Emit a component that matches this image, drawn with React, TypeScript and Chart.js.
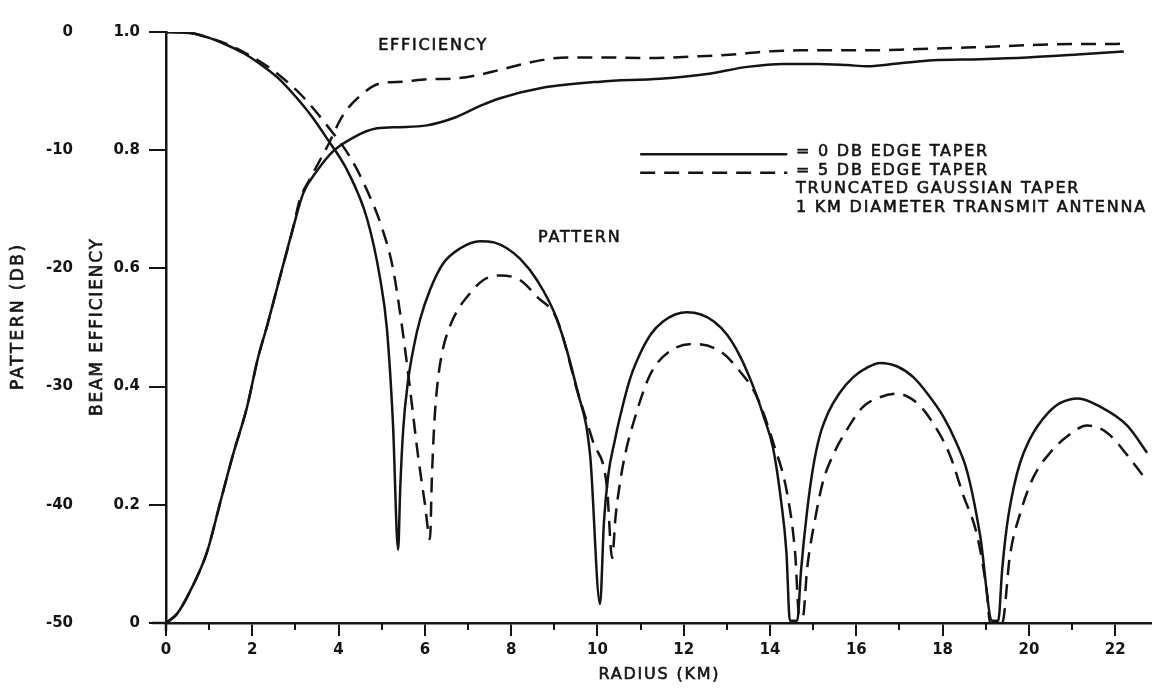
import React, { useEffect, useRef } from 'react';
import { Chart, registerables } from 'chart.js';

Chart.register(...registerables);

// ---------- data ----------
const radiusMin = 0;
const radiusMax = 22.83;
const radiusStep = 2;
const radiusMinorTicks = [1, 3, 5, 7, 9, 11, 13, 15, 17, 19, 21];
const efficiencyTickStep = 0.2;
const patternTickStep = 10;

// Pattern, 0 dB edge taper: [radius km, pattern dB]
const pattern0dB: [number, number][] = [
  [0, 0], [0.6, -0.1], [1.0, -0.5], [1.41, -1.1], [1.8, -1.8], [2.18, -2.7], [2.6, -3.9],
  [2.94, -5.2], [3.35, -7.0], [3.73, -9.0], [4.2, -11.7], [4.66, -15.8], [4.96, -20.8],
  [5.12, -25.1], [5.26, -33.1], [5.38, -43.8],
  [5.43, -38.5], [5.5, -33.5], [5.6, -29.8], [5.75, -26.5], [5.89, -24.3], [6.12, -21.8],
  [6.42, -19.6], [6.82, -18.3], [7.28, -17.7], [7.6, -17.8], [7.9, -18.3], [8.21, -19.2],
  [8.6, -21.0], [9.06, -24.3], [9.53, -30.3], [9.83, -35.8], [10.06, -48.4],
  [10.15, -41.5], [10.25, -37.5], [10.4, -34.6], [10.52, -32.6], [10.75, -29.4], [10.99, -27.2],
  [11.25, -25.5], [11.52, -24.5], [11.8, -23.9], [12.08, -23.7], [12.4, -23.9], [12.7, -24.5],
  [13.0, -25.6], [13.3, -27.4], [13.6, -29.9], [13.85, -32.5], [14.07, -35.2], [14.25, -39.5],
  [14.38, -44.0], [14.46, -49.8],
  [14.63, -49.8], [14.72, -45.5], [14.86, -40.5], [15.0, -36.8], [15.15, -34.2], [15.35, -32.2],
  [15.6, -30.6], [15.93, -29.2], [16.25, -28.4], [16.55, -28.0], [16.95, -28.3], [17.32, -29.2],
  [17.65, -30.6], [18.01, -32.5], [18.3, -34.6], [18.57, -37.2], [18.87, -42.6], [19.15, -49.8],
  [19.29, -49.8], [19.38, -45.5], [19.49, -41.8], [19.65, -38.5], [19.8, -36.4], [20.0, -34.6],
  [20.19, -33.4], [20.45, -32.2], [20.72, -31.4], [21.14, -31.0], [21.65, -31.7], [22.28, -33.3],
  [22.74, -35.6],
];

// Pattern, 5 dB edge taper: [radius km, pattern dB]
const pattern5dB: [number, number][] = [
  [0, 0], [0.6, -0.1], [1.0, -0.5], [1.41, -1.0], [1.8, -1.7], [2.18, -2.5], [2.64, -3.7],
  [3.18, -5.5], [3.73, -7.9], [4.27, -10.6], [4.66, -13.4], [5.0, -16.5], [5.26, -20.0],
  [5.47, -24.9], [5.66, -30.3], [5.84, -35.8], [6.0, -39.9], [6.12, -42.9],
  [6.16, -38.0], [6.22, -33.0], [6.3, -29.5], [6.42, -26.8], [6.58, -24.9], [6.78, -23.4],
  [6.98, -22.4], [7.35, -21.0], [7.74, -20.6], [8.21, -21.0], [8.6, -22.4], [9.06, -24.3],
  [9.53, -30.3], [9.9, -34.7], [10.22, -38.5], [10.34, -44.5],
  [10.42, -41.0], [10.52, -38.2], [10.65, -35.6], [10.83, -33.1], [11.22, -29.0], [11.68, -27.0],
  [12.22, -26.4], [12.84, -27.0], [13.3, -28.7], [13.7, -30.9], [14.07, -34.7], [14.4, -39.1],
  [14.58, -44.0], [14.68, -49.5],
  [14.76, -49.5], [14.86, -45.4], [15.04, -41.3], [15.23, -38.0], [15.46, -35.8], [15.79, -33.6],
  [16.16, -31.7], [16.55, -30.9], [16.94, -30.6], [17.41, -31.4], [17.78, -33.1], [18.17, -35.8],
  [18.47, -39.1], [18.8, -42.6], [19.03, -47.5], [19.1, -50],
  [19.38, -50], [19.56, -44.3], [19.8, -40.7], [20.1, -37.7], [20.49, -35.6], [20.89, -34.2],
  [21.35, -33.3], [21.81, -33.9], [22.28, -35.8], [22.76, -38.1],
];

// Beam efficiency, 0 dB edge taper: [radius km, efficiency]
const efficiency0dB: [number, number][] = [
  [0, 0], [0.25, 0.015], [0.56, 0.054], [0.95, 0.12], [1.25, 0.202], [1.55, 0.284], [1.88, 0.366],
  [2.13, 0.448], [2.34, 0.502], [2.64, 0.585], [2.94, 0.667], [3.18, 0.727], [3.5, 0.765],
  [3.87, 0.798], [4.33, 0.821], [4.89, 0.837], [5.42, 0.839], [6.05, 0.842], [6.65, 0.854],
  [7.28, 0.875], [7.74, 0.888], [8.67, 0.905], [10.06, 0.916], [11.45, 0.921], [12.54, 0.929],
  [13.47, 0.941], [14.3, 0.946], [15.09, 0.946], [15.79, 0.944], [16.25, 0.942], [17.01, 0.947],
  [17.78, 0.952], [18.87, 0.954], [19.96, 0.957], [21.12, 0.962], [22.2, 0.967],
];

// Beam efficiency, 5 dB edge taper: [radius km, efficiency]
const efficiency5dB: [number, number][] = [
  [0, 0], [0.25, 0.015], [0.56, 0.054], [0.95, 0.12], [1.25, 0.202], [1.55, 0.284], [1.88, 0.366],
  [2.13, 0.448], [2.34, 0.502], [2.64, 0.585], [2.94, 0.667], [3.1, 0.716], [3.34, 0.752],
  [3.73, 0.805], [4.1, 0.859], [4.5, 0.892], [4.96, 0.913], [5.49, 0.916], [6.05, 0.92],
  [6.65, 0.921], [7.28, 0.928], [7.74, 0.936], [8.67, 0.952], [9.3, 0.957], [10.06, 0.957],
  [11.22, 0.956], [12.38, 0.959], [13.14, 0.962], [13.93, 0.967], [14.7, 0.969], [16.25, 0.969],
  [17.01, 0.97], [17.78, 0.972], [18.71, 0.974], [20.56, 0.979], [22.2, 0.98],
];

// ---------- texts ----------
const xTitle = 'RADIUS (KM)';
const yTitle = 'BEAM EFFICIENCY';
const y2Title = 'PATTERN (DB)';
const efficiencyLabel = 'EFFICIENCY';
const patternLabel = 'PATTERN';
const legendLabels = ['= 0 DB EDGE TAPER', '= 5 DB EDGE TAPER'];
const noteLines = ['TRUNCATED GAUSSIAN TAPER', '1 KM DIAMETER TRANSMIT ANTENNA'];

const INK = '#141414';
const FONT = '"DejaVu Sans", "Liberation Sans", sans-serif';
const DASH = [15, 9];

const toPoints = (arr: [number, number][]) => arr.map(([x, y]) => ({ x, y }));

function drawSpaced(ctx: any, text: string, x: number, y: number, spacing: number, align: string) {
  try { ctx.letterSpacing = spacing + 'px'; } catch (e) { /* ignore */ }
  ctx.textAlign = align;
  const shift = align === 'center' ? spacing / 2 : 0;
  ctx.lineWidth = 0.6;
  ctx.strokeStyle = INK;
  ctx.fillText(text, x + shift, y);
  ctx.strokeText(text, x + shift, y);
  try { ctx.letterSpacing = '0px'; } catch (e) { /* ignore */ }
}

const annotationPlugin = {
  id: 'annotations',
  afterDraw(chart: any) {
    const ctx = chart.ctx;
    const xs = chart.scales.x;
    const ys = chart.scales.y;
    const area = chart.chartArea;
    ctx.save();

    // axis line stubs and minor ticks on the radius axis
    ctx.strokeStyle = INK;
    ctx.lineWidth = 2.5;
    ctx.setLineDash([]);
    ctx.beginPath();
    ctx.moveTo(area.left - 14, area.bottom);
    ctx.lineTo(area.left, area.bottom);
    ctx.moveTo(area.left, area.bottom);
    ctx.lineTo(area.left, area.bottom + 8);
    ctx.stroke();
    ctx.lineWidth = 2;
    for (const v of radiusMinorTicks) {
      const px = Math.round(xs.getPixelForValue(v));
      ctx.beginPath();
      ctx.moveTo(px, area.bottom);
      ctx.lineTo(px, area.bottom + 7);
      ctx.stroke();
    }

    ctx.fillStyle = INK;
    ctx.textBaseline = 'middle';

    // curve labels
    ctx.font = `16px ${FONT}`;
    drawSpaced(ctx, efficiencyLabel, xs.getPixelForValue(6.17), ys.getPixelForValue(0.976), 1.8, 'center');
    drawSpaced(ctx, patternLabel, xs.getPixelForValue(9.57), ys.getPixelForValue(0.652), 1.8, 'center');

    // legend samples
    const lx0 = xs.getPixelForValue(10.99);
    const lx1 = xs.getPixelForValue(14.4);
    const rowY = [0.793, 0.762].map((v) => ys.getPixelForValue(v));
    ctx.strokeStyle = INK;
    ctx.lineWidth = 2.5;
    ctx.beginPath();
    ctx.moveTo(lx0, rowY[0]);
    ctx.lineTo(lx1, rowY[0]);
    ctx.stroke();
    ctx.setLineDash(DASH);
    ctx.beginPath();
    ctx.moveTo(lx0, rowY[1]);
    ctx.lineTo(lx1, rowY[1]);
    ctx.stroke();
    ctx.setLineDash([]);

    const tx = xs.getPixelForValue(14.6);
    const textRows = [0.797, 0.765, 0.734, 0.703].map((v) => ys.getPixelForValue(v));
    const allLines = [...legendLabels, ...noteLines];
    allLines.forEach((t, i) => drawSpaced(ctx, t, tx, textRows[i], 1.8, 'left'));

    // axis titles
    ctx.font = `16px ${FONT}`;
    drawSpaced(ctx, xTitle, (area.left + area.right) / 2, 675, 1.8, 'center');

    ctx.font = `17px ${FONT}`;
    const midY = (area.top + area.bottom) / 2;
    ctx.save();
    ctx.translate(19, midY - 10);
    ctx.rotate(-Math.PI / 2);
    drawSpaced(ctx, y2Title, 0, 0, 2.4, 'center');
    ctx.restore();

    ctx.save();
    ctx.translate(98, midY);
    ctx.rotate(-Math.PI / 2);
    drawSpaced(ctx, yTitle, 0, 0, 1.8, 'center');
    ctx.restore();

    ctx.restore();
  },
};

export default function App() {
  const canvasRef = useRef<HTMLCanvasElement | null>(null);

  useEffect(() => {
    const canvas = canvasRef.current;
    if (!canvas) return;
    const lineBase = {
      borderColor: INK,
      borderWidth: 2.5,
      pointRadius: 0,
      pointHoverRadius: 0,
      fill: false,
      cubicInterpolationMode: 'monotone' as const,
    };
    const tickFont = { family: FONT, size: 15, weight: 'bold' as const };
    const chart = new Chart(canvas, {
      type: 'line',
      data: {
        datasets: [
          { ...lineBase, label: 'Pattern 0 dB', data: toPoints(pattern0dB), yAxisID: 'y2' },
          { ...lineBase, label: 'Pattern 5 dB', data: toPoints(pattern5dB), yAxisID: 'y2', borderDash: DASH },
          { ...lineBase, label: 'Efficiency 0 dB', data: toPoints(efficiency0dB), yAxisID: 'y' },
          { ...lineBase, label: 'Efficiency 5 dB', data: toPoints(efficiency5dB), yAxisID: 'y', borderDash: DASH },
        ],
      },
      options: {
        responsive: false,
        animation: false,
        devicePixelRatio: 1,
        events: [],
        layout: { padding: { left: 0, top: 14, right: 25, bottom: 0 } },
        plugins: {
          legend: { display: false },
          tooltip: { enabled: false },
          title: { display: false },
        },
        scales: {
          x: {
            type: 'linear',
            position: 'bottom',
            min: radiusMin,
            max: radiusMax,
            afterFit: (s: any) => { s.height = 69; },
            ticks: {
              stepSize: radiusStep,
              includeBounds: false,
              padding: 5,
              color: INK,
              font: tickFont,
              callback: (v: any) => String(v),
              maxRotation: 0,
            },
            grid: {
              display: true,
              drawOnChartArea: false,
              drawTicks: true,
              tickLength: 13,
              color: INK,
              lineWidth: 2,
            },
            border: { display: true, color: INK, width: 2.5 },
          },
          y: {
            type: 'linear',
            position: 'left',
            weight: 1,
            min: 0,
            max: 1,
            afterFit: (s: any) => { s.width = 70; },
            ticks: {
              stepSize: efficiencyTickStep,
              padding: 9,
              color: INK,
              font: tickFont,
              callback: (v: any) => (Number(v) === 0 ? '0' : Number(v).toFixed(1)),
            },
            grid: {
              display: true,
              drawOnChartArea: false,
              drawTicks: true,
              tickLength: 17,
              color: INK,
              lineWidth: 2,
            },
            border: { display: true, color: INK, width: 2.5 },
          },
          y2: {
            type: 'linear',
            position: 'left',
            weight: 2,
            min: -50,
            max: 0,
            afterFit: (s: any) => { s.width = 96; },
            ticks: {
              stepSize: patternTickStep,
              padding: 23,
              color: INK,
              font: tickFont,
              callback: (v: any) => String(v),
            },
            grid: { display: false, drawTicks: false, drawOnChartArea: false },
            border: { display: false },
          },
        },
      },
      plugins: [annotationPlugin],
    });
    return () => chart.destroy();
  }, []);

  return (
    <div style={{ position: 'fixed', left: 0, top: 0, width: 1176, height: 692, background: '#fff' }}>
      <canvas ref={canvasRef} width={1176} height={692} style={{ display: 'block' }} />
    </div>
  );
}
